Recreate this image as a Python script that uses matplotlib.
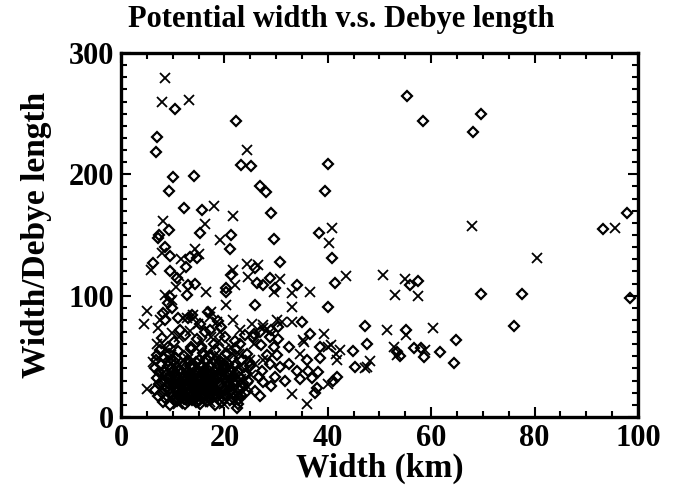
import matplotlib
matplotlib.use('Agg')
import matplotlib.pyplot as plt
from matplotlib.ticker import MultipleLocator

plt.rcParams['font.family'] = ['Liberation Serif', 'DejaVu Serif']
plt.rcParams['font.weight'] = 'bold'

# diamonds (open)
dia = [(10.4,253.5),(22.2,244),(7.0,230.5),(6.7,218),(23.2,208),(25.1,206.5),(10.0,197.5),(14.2,199),
       (9.3,186),(26.8,190),(28.0,185.6),(12.2,172),(15.6,170.4),(29.0,168.5),(9.3,153.8),(15.3,152),
       (7.4,149.6),(7.2,147.7),(21.2,149.6),(21.1,138.6),(8.5,140),(9.5,133),(13.3,132),(14.7,131),
       (6.2,127),(12.6,124),(25.9,122.8),(30.8,127.5),(21.2,117),(9.5,120),(10.9,114.4),(28.8,114.4),
       (26.4,110.3),(27.5,109),(34.0,109),(20.4,106),(29.8,106),(13.0,109),(14.3,109.4),(9.5,99),
       (12.8,100.6),(29.6,147),(20.3,103),(25.9,92.3),(9.1,93.7),(16.9,86.7),(13.0,81.2),(15.3,77),
       (18.8,79.4),(30.4,74.2),(8.2,86),(9.8,89.5),(13.7,84),(11.1,81.2),(17.2,71.5),(29.1,71.5),
       (8.5,79.8),(40.0,90.3),(35.0,78.4),(25.7,68.7),(26.9,70),(30.4,64.6),(36.6,68.7),(47.2,74.8),
       (47.5,60.4),(27.0,59),(29.5,57.6),(32.4,57.6),(38.4,57.6),(38.5,48.8),(44.9,54.3),(45.3,41),
       (35.9,46.6),(36.2,38.2),(38.2,36.8),(34.0,38.2),(32.4,43.8),(31.7,29.9),(36.9,32),(34.6,31.2),
       (41.7,32.7),(41.1,29.9),(38.0,23.8),(37.5,20.2),(22.5,7.2),(30.8,41),(30.1,50.7),(28.2,50.7),
       (28.8,43.8),(27.2,38.2),(29.8,32.7),(29.1,25.8),(27.5,28.5),(25.9,21.6),(26.6,32.7),(24.9,42.4),
       (24.3,52.1),(23.0,60.4),(26.9,17.5),(25.6,66),(28.8,66),(69.6,101.4),(55.2,71.5),(64.8,63.8),
       (56.7,57.1),(58.0,57.1),(61.7,53.5),(53.3,53.5),(54.0,49.9),(58.7,49.3),(64.4,44.3),(39.5,186),
       (38.3,151.8),(40.9,131),(41.4,110.8),(57.5,112.2),(55.9,109),(55.3,264.3),(58.4,243.6),
       (69.6,249.4),(68.1,235.2),(40.0,208.6),(97.8,168.5),(93.3,154.6),(77.6,101.4),(98.5,97.8),
       (76.0,74.8),
       # dense cluster
       (7.5,55),(9.2,52),(11.0,54),(13.5,56),(15.8,53),(18.2,55),(20.5,52),(22.3,56),(12.2,50),(17.0,50),
       (6.8,47),(8.4,49),(10.3,46),(12.9,47),(14.6,45),(16.4,48),(19.1,46),(21.4,49),(23.5,47),(7.8,44),
       (9.0,42),(10.9,41),(12.1,43),(13.8,40),(15.5,42),(17.2,41),(18.8,43),(20.3,40),(22.0,42),(23.8,41),
       (6.5,40),(7.3,37),(8.8,35),(10.1,38),(11.6,36),(13.0,38),(14.4,35),(15.9,37),(17.6,36),(19.3,38),
       (20.8,35),(22.6,37),(24.2,36),(6.9,32),(8.2,30),(9.6,33),(11.0,31),(12.4,34),(13.7,31),(15.1,33),
       (16.5,30),(18.0,32),(19.6,34),(21.2,31),(22.9,33),(24.5,30),(7.4,27),(8.9,25),(10.3,28),(11.7,26),
       (13.2,29),(14.5,26),(16.0,28),(17.4,25),(18.9,27),(20.5,29),(22.1,26),(23.6,28),(6.6,22),(8.0,20),
       (9.4,23),(10.8,21),(12.3,24),(13.6,21),(15.0,23),(16.6,20),(18.1,22),(19.5,24),(21.0,21),(22.6,23),
       (24.0,20),(7.2,17),(8.7,15),(10.0,18),(11.5,16),(12.9,19),(14.3,16),(15.7,18),(17.2,15),(18.6,17),
       (20.1,19),(21.6,16),(23.2,18),(8.1,12),(9.5,10),(10.9,13),(12.3,11),(13.8,14),(15.2,11),(16.7,13),
       (18.2,10),(19.6,12),(21.1,14),(22.7,11),(11.2,29),(12.8,22),(14.0,18),(15.4,27),(16.9,23),(18.4,19),
       (13.1,33),(17.8,29),(11.9,19),(19.9,15),(10.5,24),(14.8,38),(16.2,15),(9.8,29),(20.7,27),
       (8.0,65),(10.2,62),(12.4,68),(14.7,64),(16.3,70),(18.0,60),(20.2,66),(22.1,63),(24.0,68),(11.5,72),
       (9.1,58),(13.6,58),(19.3,74),(15.4,57),
       (9.9,40),(11.4,39),(12.7,37),(14.2,41),(16.0,39),(17.9,38),(19.8,41),(21.3,38),(10.6,34),(12.0,32),
       (13.4,35),(14.9,30),(16.3,34),(17.1,31),(18.7,35),(20.1,32),(21.8,34),(9.1,31),(10.2,26),(11.1,23),
       (12.6,27),(13.9,24),(15.2,25),(16.7,27),(17.9,24),(19.2,26),(20.4,23),(21.7,28),(9.7,20),(11.3,18),
       (12.1,15),(13.5,17),(14.8,20),(15.9,16),(17.5,19),(18.9,14),(20.6,17),(10.3,14),(12.9,13),(14.6,12),
       (16.1,22),(17.7,21),(19.0,20),(14.3,28),(11.8,28),(16.8,36),(13.3,42),(18.3,46),(15.1,47),(10.7,49),
       (8.3,38),(7.9,28),(8.5,22),(22.5,29),(23.4,24),(22.9,15),(9.0,46),(20.0,44),(24.8,45),(7.0,51),
       (10.4,36),(12.2,30),(13.9,27),(15.6,32),(17.3,29),(19.0,33),(20.9,26),(11.6,21),(13.0,16),(14.5,23),
       (16.3,25),(18.0,17),(19.7,21),(10.9,16),(9.3,27),(15.0,14),(17.0,38),(12.3,40),(19.9,39),(21.9,20)]

# crosses
crs = [(8.5,279),(7.9,260),(13.2,261),(24.3,220),(17.9,174),(21.7,165.7),(8.1,161.5),(16.2,159.3),
       (19.1,145.7),(14.3,138.6),(7.9,135.3),(15.1,134.6),(11.7,130),(5.9,121.4),(24.3,126.4),
       (26.5,125.5),(21.7,121.4),(24.6,115.8),(11.3,116.4),(30.8,113.6),(22.0,109),(33.0,102),
       (29.5,103.3),(10.6,107.5),(16.4,103.3),(8.5,100.6),(20.4,92.3),(33.0,90.9),(5.0,87.5),(4.4,77),
       (7.5,79.8),(9.8,96.4),(17.2,82.5),(14.0,84),(18.5,78.4),(21.7,79.8),(25.3,77),(27.5,75.6),
       (31.1,78.4),(33.0,78.4),(33.0,18.8),(5.0,23),(8.7,84),(12.7,81.2),(17.5,86.7),(14.9,77),(19.1,70),
       (30.1,79.8),(27.5,73),(7.2,73),(28.8,70),(39.3,68.2),(35.4,61.8),(34.6,52.1),(40.1,57.6),
       (41.6,52.1),(42.4,54.9),(41.7,47.1),(47.5,41),(40.1,27.1),(35.9,10.5),(24.9,46.6),(27.5,46.6),
       (53.0,100.6),(57.4,99.8),(51.4,71.5),(55.2,68),(60.4,73.4),(52.8,57.6),(58.8,54.9),(53.3,50.7),
       (48.2,46),(47.2,40.4),(40.7,59),(35.3,63.2),(40.9,156),(40.3,143),(43.5,116.4),(50.6,117.2),
       (54.9,113.6),(67.9,157.3),(36.6,103.3),(95.6,156),(80.4,131),
       (6.1,45),(7.9,39),(9.6,51),(11.3,44),(13.0,48),(14.9,43),(16.8,51),(18.6,45),(20.9,47),(22.8,52),
       (8.6,33),(10.6,36),(12.5,29),(14.1,37),(15.8,31),(17.5,34),(19.4,30),(21.5,36),(23.3,31),(7.7,24),
       (9.9,27),(11.8,21),(13.5,25),(15.3,19),(17.0,26),(18.7,21),(20.6,25),(22.4,19),(9.2,16),(11.0,11),
       (13.3,14),(15.9,12),(17.8,16),(19.9,11),(21.8,13),(24.6,25),(26.0,44),(25.2,35),
       (7.0,60),(11.2,66),(13.4,71),(15.6,62),(17.5,66),(21.3,58),(23.0,72),(19.0,63),(9.8,69),(25.8,60),
       (10.1,42),(12.4,39),(14.6,33),(16.4,41),(18.1,27),(19.7,37),(21.1,22),(12.0,25),(13.8,19),(16.9,17),
       (10.8,30),(14.0,45),(18.9,50),(8.8,57),(20.1,56),(23.9,39),(22.0,40),(15.5,36),(11.6,14),(17.3,12)]

dx = [p[0] for p in dia]
dy = [p[1] for p in dia]
cx = [p[0] for p in crs]
cy = [p[1] for p in crs]

fig = plt.figure(figsize=(6.82, 4.92), dpi=100)
ax = fig.add_axes([0.1774, 0.1524, 0.7581, 0.7399])

ax.plot(dx, dy, 'D', ms=4.6, mfc='none', mec='black', mew=1.6, clip_on=False)
ax.plot(cx, cy, 'x', ms=7, color='black', mew=1.3, clip_on=False)

ax.set_xlim(0, 100)
ax.set_ylim(0, 300)
ax.xaxis.set_major_locator(MultipleLocator(20))
ax.xaxis.set_minor_locator(MultipleLocator(5))
ax.yaxis.set_major_locator(MultipleLocator(100))
ax.yaxis.set_minor_locator(MultipleLocator(10))
ax.tick_params(which='both', direction='in', top=True, right=True, width=1.5, labelsize=22, pad=5)
ax.tick_params(which='major', length=7)
ax.tick_params(which='minor', length=4)
for s in ax.spines.values():
    s.set_linewidth(2.4)

fig.suptitle('Potential width v.s. Debye length', x=0.5, y=0.99, fontsize=22, fontweight='bold')
ax.set_xlabel('Width (km)', fontsize=24, fontweight='bold', labelpad=0)
ax.set_ylabel('Width/Debye length', fontsize=24, fontweight='bold', labelpad=12)

fig.savefig('out.png', dpi=100)
